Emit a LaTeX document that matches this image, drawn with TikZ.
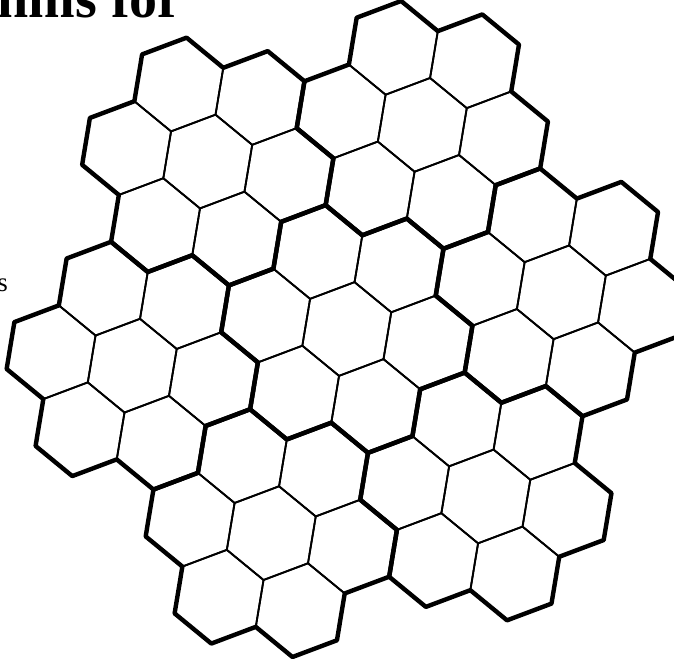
\documentclass[tikz,border=0pt]{standalone}
\usepackage{fontspec}
\setmainfont{Liberation Serif}
\begin{document}
\begin{tikzpicture}[x=1pt,y=1pt,
  hexcell/.style={line width=1.8pt, line join=round},
  clusterrim/.style={line width=4.4pt, line join=round, line cap=round}]
\clip (0,0) rectangle (674,658);
\useasboundingbox (0,0) rectangle (674,658);
\node[anchor=base east, inner sep=0pt, font=\fontsize{56}{60}\selectfont\bfseries] (head) at (183,640) {Algorithms for};
\node[anchor=base east, inner sep=0pt, font=\fontsize{27}{30}\selectfont] (sfrag) at (8,366) {s};
\begin{scope}[shift={(346.8,329)}, rotate=-9.4]
\def\hexr{47.5}
\pgfmathsetmacro\hexw{\hexr*sqrt(3)}
\pgfmathsetmacro\clR{\hexw*sqrt(7)}
% thin cells
\foreach \ci in {0,...,6}{
  \pgfmathsetmacro\cr{ifthenelse(\ci==0,0,\clR)}
  \pgfmathsetmacro\cx{\cr*cos(19.1+60*\ci)}
  \pgfmathsetmacro\cy{\cr*sin(19.1+60*\ci)}
  \foreach \hi in {0,...,6}{
    \pgfmathsetmacro\hr{ifthenelse(\hi==0,0,\hexw)}
    \pgfmathsetmacro\hx{\cx+\hr*cos(60*\hi)}
    \pgfmathsetmacro\hy{\cy+\hr*sin(60*\hi)}
    \draw[hexcell] (\hx,\hy) +(30:\hexr) -- +(90:\hexr) -- +(150:\hexr) -- +(210:\hexr) -- +(270:\hexr) -- +(330:\hexr) -- cycle;
  }
}
% thick cluster outlines
\foreach \ci in {0,...,6}{
  \pgfmathsetmacro\cr{ifthenelse(\ci==0,0,\clR)}
  \pgfmathsetmacro\cx{\cr*cos(19.1+60*\ci)}
  \pgfmathsetmacro\cy{\cr*sin(19.1+60*\ci)}
  \draw[clusterrim] ({\cx+\hexw+\hexr*cos(270)},{\cy+\hexr*sin(270)})
    \foreach \k in {0,...,5}{
      \foreach \a in {270,330,30}{
        -- ({\cx+\hexw*cos(60*\k)+\hexr*cos(60*\k+\a)},{\cy+\hexw*sin(60*\k)+\hexr*sin(60*\k+\a)})
      }
    } -- cycle;
}
\end{scope}
\end{tikzpicture}
\end{document}
